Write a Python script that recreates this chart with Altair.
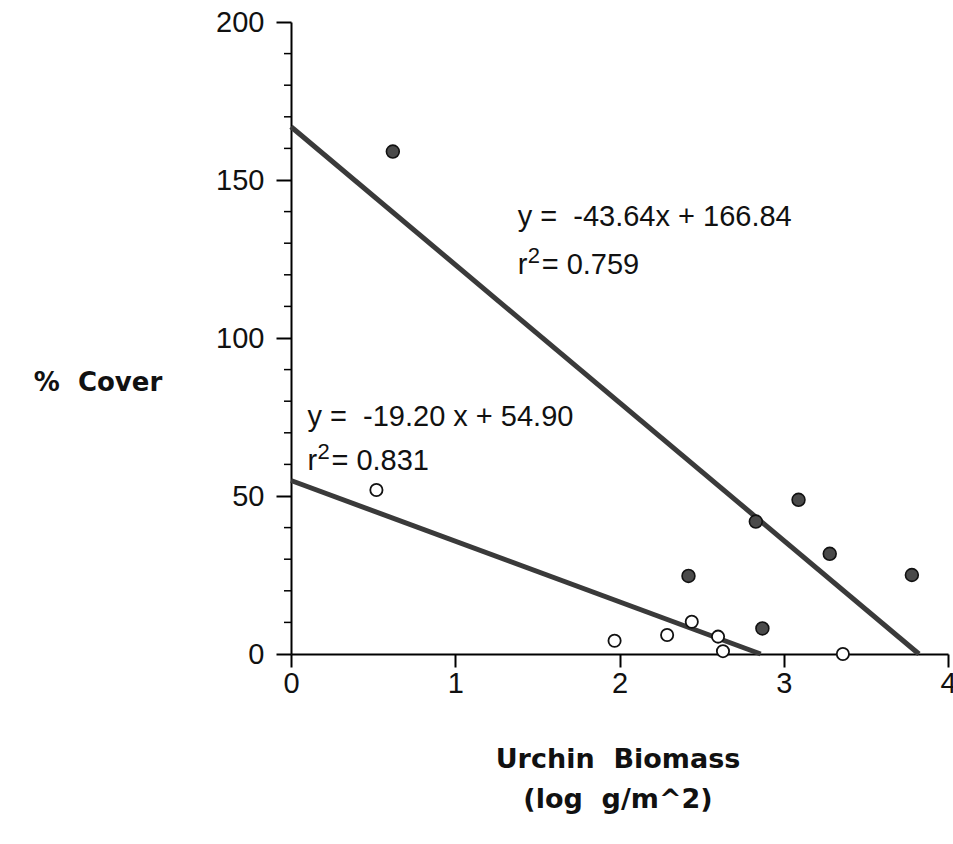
import altair as alt
import pandas as pd

# ---- data ----
filled_x = [0.62, 2.42, 2.83, 2.87, 3.09, 3.28, 3.78]
filled_y = [159.0, 24.7, 41.9, 8.1, 48.8, 31.7, 25.0]

open_x = [0.52, 1.97, 2.29, 2.44, 2.60, 2.63, 3.36]
open_y = [51.9, 4.2, 6.0, 10.2, 5.5, 0.9, 0.0]

# regression lines (slope, intercept) as printed
fit_upper = (-43.64, 166.84)
fit_lower = (-19.20, 54.90)

x_ticks = [0, 1, 2, 3, 4]
y_ticks = [0, 50, 100, 150, 200]
y_minor = [v for v in range(0, 201, 10) if v % 50 != 0]

FONT = "Liberation Sans"
TITLE_FONT = "DejaVu Sans"
NB = "\u00a0"

filled = pd.DataFrame({"x": filled_x, "y": filled_y})
opened = pd.DataFrame({"x": open_x, "y": open_y})


def line_df(fit, name):
    m, b = fit
    x_end = -b / m
    return pd.DataFrame({"x": [0.0, x_end], "y": [b, 0.0], "s": [name, name]})


lines = pd.concat([line_df(fit_upper, "upper"), line_df(fit_lower, "lower")])

xs = alt.Scale(domain=[0, 4], nice=False, zero=False)
ys = alt.Scale(domain=[0, 200], nice=False)

X = alt.X("x:Q", scale=xs, axis=alt.Axis(
    values=x_ticks, format="d", title=None, grid=False, tickSize=13, tickWidth=2,
    domainWidth=2, domainColor="black", tickColor="black",
    labelFont=FONT, labelFontSize=29, labelColor="#111", labelPadding=2,
    labelFlush=False))
Y = alt.Y("y:Q", scale=ys, axis=alt.Axis(
    values=y_ticks, format="d", title=None, grid=False, tickSize=15, tickWidth=2,
    domainWidth=2, domainColor="black", tickColor="black",
    labelFont=FONT, labelFontSize=29, labelColor="#111", labelPadding=12))

line_layer = alt.Chart(lines).mark_line(color="#3a3a3a", strokeWidth=5).encode(
    x=X, y=Y, detail="s:N")

filled_layer = alt.Chart(filled).mark_point(
    filled=True, fill="#4a4a4a", stroke="#111", strokeWidth=1.6, size=165, opacity=1
).encode(x="x:Q", y="y:Q")

open_layer = alt.Chart(opened).mark_point(
    filled=True, fill="white", stroke="#111", strokeWidth=1.8, size=150, opacity=1
).encode(x="x:Q", y="y:Q")

minor_layer = alt.Chart(pd.DataFrame({"y": y_minor})).mark_rule(
    color="black", strokeWidth=1.5
).encode(y="y:Q", x=alt.value(-7), x2=alt.value(0))

# ---- annotations (equation text, in data coordinates) ----
ann = pd.DataFrame({
    "x": [1.38, 0.10],
    "y": [135.5, 72.2],
    "t": ["y =" + NB + " -43.64x + 166.84", "y =" + NB + " -19.20 x + 54.90"],
})
r_df = pd.DataFrame({"x": [1.38, 0.10], "y": [120.3, 58.3],
                     "t": ["= 0.759", "= 0.831"]})

ann_layer = alt.Chart(ann).mark_text(
    align="left", baseline="alphabetic", font=FONT, fontSize=29, color="#111"
).encode(x="x:Q", y="y:Q", text="t:N")

r_layer = alt.Chart(r_df).mark_text(
    align="left", baseline="alphabetic", font=FONT, fontSize=29, color="#111"
).encode(x="x:Q", y="y:Q", text=alt.value("r"))
sup_layer = alt.Chart(r_df).mark_text(
    align="left", baseline="alphabetic", font=FONT, fontSize=22, color="#111",
    dx=10, dy=-11
).encode(x="x:Q", y="y:Q", text=alt.value("2"))
rv_layer = alt.Chart(r_df).mark_text(
    align="left", baseline="alphabetic", font=FONT, fontSize=29, color="#111",
    dx=24
).encode(x="x:Q", y="y:Q", text="t:N")

# ---- axis titles ----
ytitle = alt.Chart(pd.DataFrame({"t": ["%" + NB + " Cover"]})).mark_text(
    font=TITLE_FONT, fontSize=26, fontWeight="bold", color="#111",
    align="center", baseline="middle"
).encode(text="t:N", x=alt.value(-193), y=alt.value(361))

xtitle1 = alt.Chart(pd.DataFrame({"t": ["Urchin" + NB + " Biomass"]})).mark_text(
    font=TITLE_FONT, fontSize=27, fontWeight="bold", color="#111",
    align="center", baseline="middle"
).encode(text="t:N", x=alt.value(327), y=alt.value(738))
xtitle2 = alt.Chart(pd.DataFrame({"t": ["(log" + NB + " g/m^2)"]})).mark_text(
    font=TITLE_FONT, fontSize=27, fontWeight="bold", color="#111",
    align="center", baseline="middle"
).encode(text="t:N", x=alt.value(327), y=alt.value(778))

chart = alt.layer(
    line_layer, minor_layer, filled_layer, open_layer,
    ann_layer, r_layer, sup_layer, rv_layer, ytitle, xtitle1, xtitle2
).properties(
    width=657, height=632,
    background="white",
    autosize=alt.AutoSizeParams(type="none"),
    padding={"left": 291, "top": 22, "right": 5, "bottom": 190},
).configure_view(stroke="transparent", strokeWidth=0)

chart.save("out.html", embed_options={"renderer": "svg", "actions": False})
